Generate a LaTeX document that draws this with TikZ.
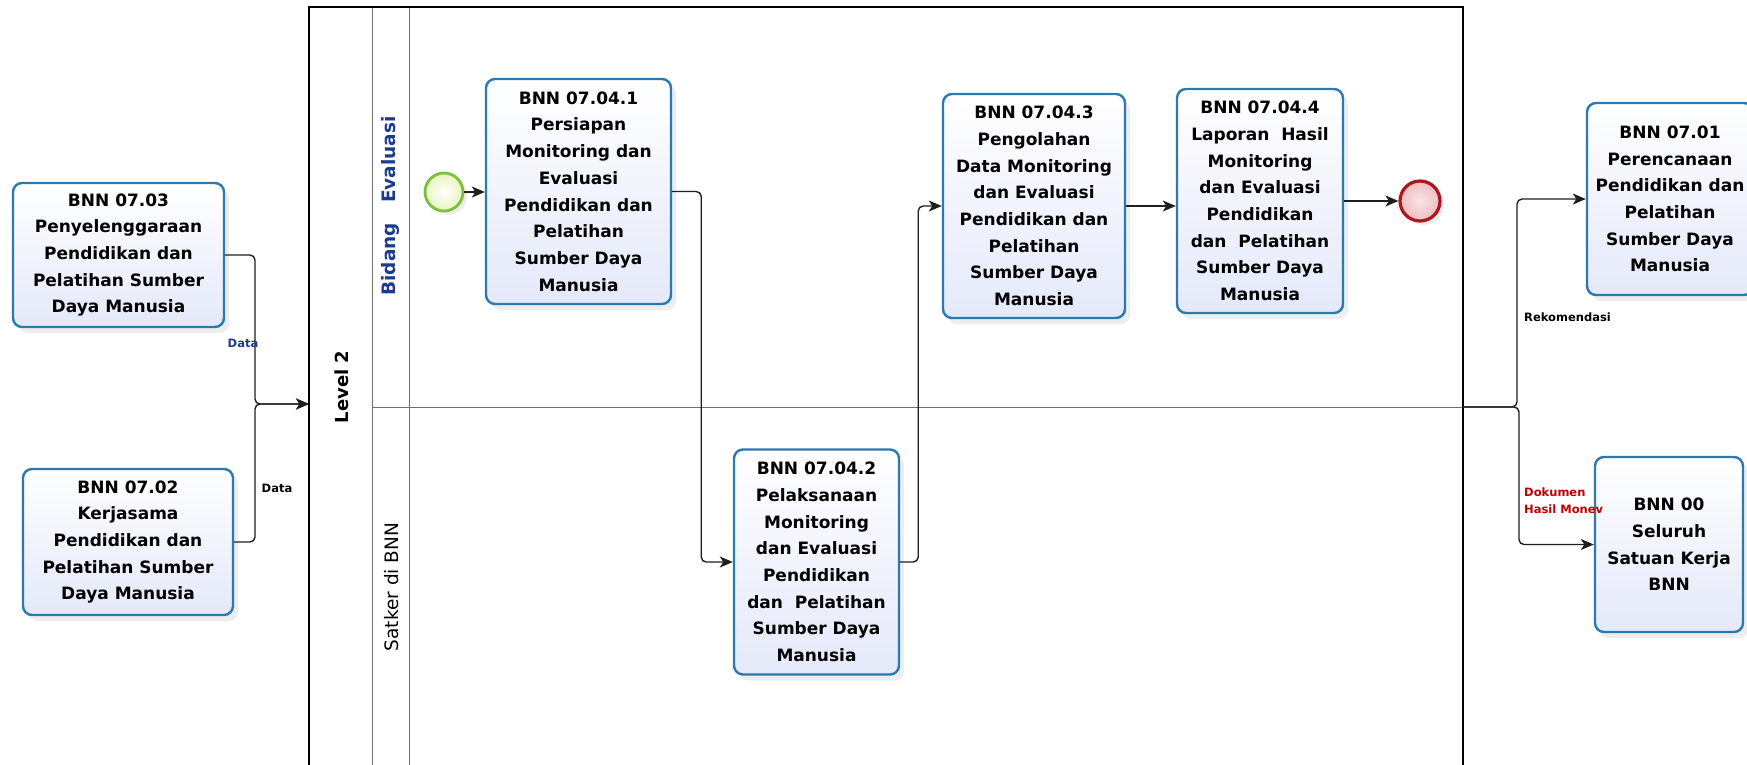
\documentclass[tikz,border=0pt]{standalone}
\usepackage{fontspec}
\setmainfont{DejaVu Sans}
\usetikzlibrary{arrows.meta,shadows}

\definecolor{taskedge}{HTML}{2A7AB0}
\definecolor{taskfill}{HTML}{E4E9FA}
\definecolor{lanetitle}{HTML}{1B3C8C}
\definecolor{startedge}{HTML}{7DBF3F}
\definecolor{startfill}{HTML}{E6F6BE}
\definecolor{endedge}{HTML}{B0141C}
\definecolor{endfill}{HTML}{F0BCC0}
\definecolor{flowline}{HTML}{1E1E1E}
\definecolor{redlabel}{HTML}{C00000}
\definecolor{laneline}{HTML}{6E6E6E}

\begin{document}
\begin{tikzpicture}[x=1pt,y=-1pt,
  task/.style={draw=taskedge, line width=2.4pt, rounded corners=9pt,
    top color=white, bottom color=taskfill, align=center, inner sep=0pt,
    text=black, font=\fontsize{17}{26.7}\selectfont\bfseries,
    drop shadow={shadow xshift=5pt, shadow yshift=-6pt, opacity=0.14}},
  startev/.style={circle, minimum size=38pt, inner sep=0pt, draw=startedge,
    line width=2.8pt, inner color=white, outer color=startfill,
    drop shadow={shadow xshift=4pt, shadow yshift=-4pt, opacity=0.14}},
  endev/.style={circle, minimum size=40pt, inner sep=0pt, draw=endedge,
    line width=3.2pt, inner color=endfill!40, outer color=endfill,
    drop shadow={shadow xshift=4pt, shadow yshift=-4pt, opacity=0.14}},
  flow/.style={draw=flowline, line width=1.4pt, rounded corners=5pt,
    -{Stealth[length=13pt,width=11pt,inset=3.5pt]}},
  flowlabel/.style={font=\fontsize{11.5}{17}\selectfont\bfseries, inner sep=0pt, align=left},
  lanelabel/.style={rotate=90, inner sep=0pt},
  poolline/.style={draw=laneline, line width=1pt}
]
\useasboundingbox (0,0) rectangle (1747,764);

% pool and lanes
\draw[poolline] (372,7) -- (372,768);
\draw[poolline] (409,7) -- (409,768);
\draw[poolline] (372,407) -- (1463,407);
\draw[line width=1.2pt] (309,7) rectangle (1463,768);

\node[lanelabel, font=\fontsize{18}{20}\selectfont\bfseries] (level) at (342,387) {Level 2};
\node[lanelabel, text=lanetitle, font=\fontsize{18.5}{20}\selectfont\bfseries] (lanea) at (390,206) {Bidang\hspace{20pt}Evaluasi};
\node[lanelabel, font=\fontsize{18.5}{20}\selectfont] (laneb) at (392,587) {Satker di BNN};

% external activities
\node[task, minimum width=211pt, minimum height=144pt] (b0703) at (118.5,255)
  {BNN 07.03\\Penyelenggaraan\\Pendidikan dan\\Pelatihan Sumber\\Daya Manusia};
\node[task, minimum width=210pt, minimum height=146pt] (b0702) at (128,542)
  {BNN 07.02\\Kerjasama\\Pendidikan dan\\Pelatihan Sumber\\Daya Manusia};
\node[task, minimum width=166pt, minimum height=192pt] (b0701) at (1670,199)
  {BNN 07.01\\Perencanaan\\Pendidikan dan\\Pelatihan\\Sumber Daya\\Manusia};
\node[task, minimum width=148pt, minimum height=175pt] (b00) at (1669,544.5)
  {BNN 00\\Seluruh\\Satuan Kerja\\BNN};

% process inside the pool
\node[startev] (start) at (444,192) {};
\node[task, minimum width=185pt, minimum height=225pt] (b1) at (578.5,191.5)
  {BNN 07.04.1\\Persiapan\\Monitoring dan\\Evaluasi\\Pendidikan dan\\Pelatihan\\Sumber Daya\\Manusia};
\node[task, minimum width=165pt, minimum height=225pt] (b2) at (816.5,562)
  {BNN 07.04.2\\Pelaksanaan\\Monitoring\\dan Evaluasi\\Pendidikan\\dan\ \ Pelatihan\\Sumber Daya\\Manusia};
\node[task, minimum width=182pt, minimum height=224pt] (b3) at (1034,206)
  {BNN 07.04.3\\Pengolahan\\Data Monitoring\\dan Evaluasi\\Pendidikan dan\\Pelatihan\\Sumber Daya\\Manusia};
\node[task, minimum width=166pt, minimum height=224pt] (b4) at (1260,201)
  {BNN 07.04.4\\Laporan\ \ Hasil\\Monitoring\\dan Evaluasi\\Pendidikan\\dan\ \ Pelatihan\\Sumber Daya\\Manusia};
\node[endev] (end) at (1420,201) {};

% message flows into the pool
\coordinate (poolin) at (309,404);
\coordinate (joinin) at (255,404);
\draw[flow] (b0703.east) -| (joinin) -- (poolin);
\draw[flow] (b0702.east) -| (joinin) -- (poolin);
\node[flowlabel, text=lanetitle] (datab) at (243,343) {Data};
\node[flowlabel] (datak) at (277,488) {Data};

% sequence flows
\draw[flow] (start.east) -- (start.east -| b1.west);
\draw[flow] (b1.east) -- ++(29,0) |- (b2.west);
\draw[flow] (b2.east) -- ++(18,0) |- (b3.west);
\draw[flow] (b3.east) -- (b3.east -| b4.west);
\draw[flow] (b4.east) -- (end.west);

% message flows out of the pool
\coordinate (poolout) at (1463,407);
\draw[flow] (poolout) -- ++(54,0) |- (b0701.west);
\draw[flow] (poolout) -- ++(56,0) |- (b00.west);
\node[flowlabel, anchor=west] (rekom) at (1524,317) {Rekomendasi};
\node[flowlabel, anchor=west, text=redlabel] (dokumen) at (1524,501) {Dokumen\\Hasil Monev};
\end{tikzpicture}
\end{document}
